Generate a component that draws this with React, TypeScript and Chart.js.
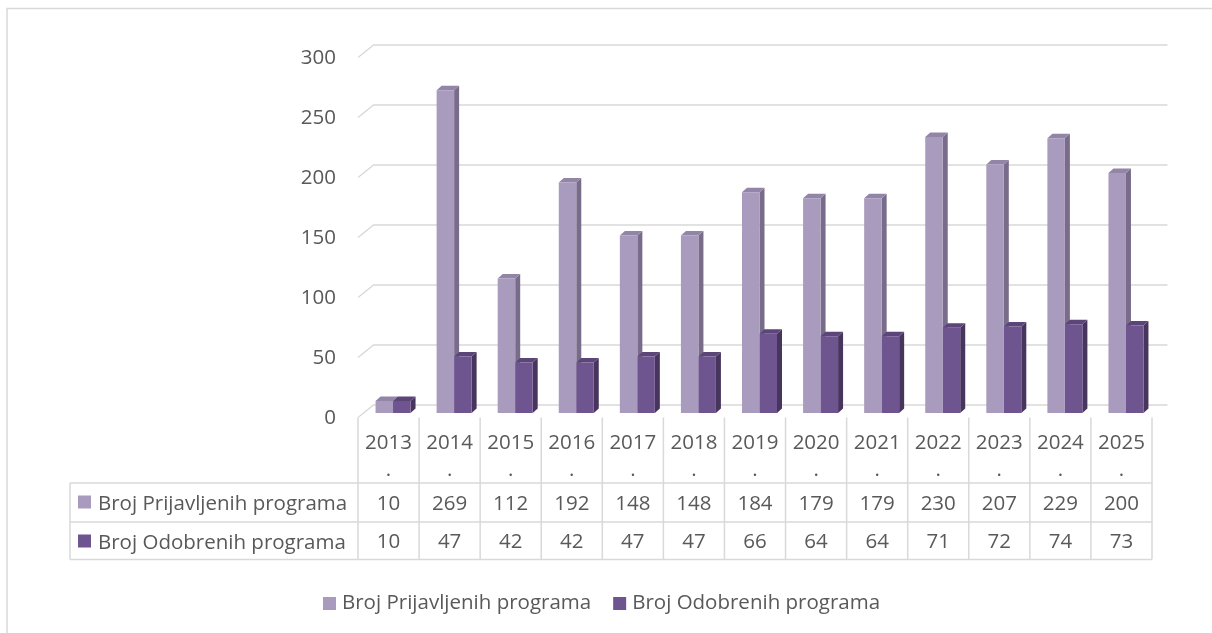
import { useEffect, useRef } from "react";
import { Chart, registerables } from "chart.js";

Chart.register(...registerables);

// ---- data ----
const categories = ["2013.", "2014.", "2015.", "2016.", "2017.", "2018.", "2019.", "2020.", "2021.", "2022.", "2023.", "2024.", "2025."];
const prijavljeni = [10, 269, 112, 192, 148, 148, 184, 179, 179, 230, 207, 229, 200];
const odobreni = [10, 47, 42, 42, 47, 47, 66, 64, 64, 71, 72, 74, 73];
const seriesNames = ["Broj Prijavljenih programa", "Broj Odobrenih programa"];
const yTicks = [0, 50, 100, 150, 200, 250, 300];

// ---- styles ----
const FONT_FAMILY = "'Open Sans', 'DejaVu Sans', sans-serif";
const FONT_SIZE = 20.5;
const TEXT = "#595959";
const GRID = "#D9D9D9";
const FRONT = ["#A99BBD", "#6F5590"];
const TOP = ["#9385A8", "#5C4679"];
const SIDE = ["#786C8A", "#47355E"];

const W = 1212;
const H = 633;

const BAR_SHIFT = 4.5; // bars sit this far behind the front floor edge
const WALL_DX = 15.5;
const WALL_DY = 12.5;
const BOX_DX = 5;
const BOX_DY = 4.5;

const threeDPlugin = {
  id: "threeDTable",
  beforeDatasetsDraw(chart: any) {
    const { ctx, chartArea, scales } = chart;
    const y = scales.y;
    const n = categories.length;
    const cw = (chartArea.right - chartArea.left) / n;
    const frontLeft = chartArea.left - BAR_SHIFT;
    const frontRight = chartArea.right - BAR_SHIFT;
    const font = `${FONT_SIZE}px ${FONT_FAMILY}`;

    ctx.save();
    // outer frame (extends past the window on right/bottom)
    ctx.strokeStyle = GRID;
    ctx.lineWidth = 1.5;
    ctx.strokeRect(7, 8.5, 1400, 900);

    // gridlines on the back wall with the left floor diagonal
    ctx.lineWidth = 1.3;
    ctx.strokeStyle = GRID;
    ctx.font = font;
    ctx.fillStyle = TEXT;
    ctx.textAlign = "right";
    ctx.textBaseline = "middle";
    for (const v of yTicks) {
      const yp = y.getPixelForValue(v);
      const yFront = yp + BAR_SHIFT;
      const yBack = yFront - WALL_DY;
      ctx.beginPath();
      ctx.moveTo(frontLeft, yFront);
      ctx.lineTo(frontLeft + WALL_DX, yBack);
      ctx.lineTo(frontRight + WALL_DX, yBack);
      ctx.stroke();
      ctx.fillText(String(v), 336, yFront + 1);
    }

    // 3D box top and side faces
    const metas = [chart.getDatasetMeta(0), chart.getDatasetMeta(1)];
    for (let j = 0; j < n; j++) {
      for (let d = 0; d < 2; d++) {
        const el: any = metas[d].data[j];
        const l = el.x - el.width / 2;
        const r = el.x + el.width / 2;
        const t = el.y;
        const b = el.base;
        ctx.fillStyle = SIDE[d];
        ctx.beginPath();
        ctx.moveTo(r, t);
        ctx.lineTo(r + BOX_DX, t - BOX_DY);
        ctx.lineTo(r + BOX_DX, b - BOX_DY);
        ctx.lineTo(r, b);
        ctx.closePath();
        ctx.fill();
        ctx.fillStyle = TOP[d];
        ctx.beginPath();
        ctx.moveTo(l, t);
        ctx.lineTo(r, t);
        ctx.lineTo(r + BOX_DX, t - BOX_DY);
        ctx.lineTo(l + BOX_DX, t - BOX_DY);
        ctx.closePath();
        ctx.fill();
      }
    }

    // data table
    const floor = y.getPixelForValue(0) + BAR_SHIFT;
    const row1Top = floor + 65.5;
    const row2Top = row1Top + 39;
    const tableBottom = row2Top + 37.5;
    const labelLeft = 70;
    ctx.strokeStyle = GRID;
    ctx.lineWidth = 1.5;
    ctx.beginPath();
    for (let k = 0; k <= n; k++) {
      const xx = frontLeft + k * cw;
      ctx.moveTo(xx, floor);
      ctx.lineTo(xx, tableBottom);
    }
    ctx.moveTo(labelLeft, row1Top);
    ctx.lineTo(labelLeft, tableBottom);
    for (const yy of [row1Top, row2Top, tableBottom]) {
      ctx.moveTo(labelLeft, yy);
      ctx.lineTo(frontRight, yy);
    }
    ctx.stroke();

    ctx.fillStyle = TEXT;
    ctx.font = font;
    ctx.textAlign = "center";
    ctx.textBaseline = "alphabetic";
    const rows = [prijavljeni, odobreni];
    for (let j = 0; j < n; j++) {
      const cx = frontLeft + (j + 0.5) * cw;
      const cat = categories[j];
      const main = cat.endsWith(".") ? cat.slice(0, -1) : cat;
      ctx.fillText(main, cx, floor + 31);
      if (cat.endsWith(".")) ctx.fillText(".", cx, floor + 58);
      ctx.fillText(String(rows[0][j]), cx, row1Top + 27);
      ctx.fillText(String(rows[1][j]), cx, row2Top + 26);
    }
    ctx.textAlign = "left";
    const rowTops = [row1Top, row2Top];
    for (let d = 0; d < 2; d++) {
      ctx.fillStyle = FRONT[d];
      ctx.fillRect(78, rowTops[d] + 12.5, 13, 13);
      ctx.fillStyle = TEXT;
      ctx.fillText(seriesNames[d], 98, rowTops[d] + 26.5);
    }

    // legend
    const legendY = 597;
    let lx = 323;
    for (let d = 0; d < 2; d++) {
      ctx.fillStyle = FRONT[d];
      ctx.fillRect(lx, legendY, 13, 13);
      ctx.fillStyle = TEXT;
      ctx.fillText(seriesNames[d], lx + 19, legendY + 12);
      lx += 19 + ctx.measureText(seriesNames[d]).width + 22;
    }
    ctx.restore();
  },
};

export default function App() {
  const ref = useRef<HTMLCanvasElement | null>(null);
  useEffect(() => {
    if (!ref.current) return;
    const chart = new Chart(ref.current, {
      type: "bar",
      data: {
        labels: categories,
        datasets: [
          { label: seriesNames[0], data: prijavljeni, backgroundColor: FRONT[0], borderWidth: 0, categoryPercentage: 0.573, barPercentage: 1 },
          { label: seriesNames[1], data: odobreni, backgroundColor: FRONT[1], borderWidth: 0, categoryPercentage: 0.573, barPercentage: 1 },
        ],
      },
      options: {
        responsive: false,
        devicePixelRatio: 1,
        animation: false,
        layout: { padding: { left: 362.5, right: W - 1156.5, top: 53, bottom: H - 413 } },
        scales: {
          x: { display: false, offset: true, grid: { display: false } },
          y: { display: false, min: 0, max: 300, ticks: { stepSize: 50 } },
        },
        plugins: { legend: { display: false }, tooltip: { enabled: false } },
      },
      plugins: [threeDPlugin],
    });
    return () => chart.destroy();
  }, []);
  return (
    <div style={{ position: "absolute", left: 0, top: 0, width: W, height: H, background: "#fff" }}>
      <canvas ref={ref} width={W} height={H} />
    </div>
  );
}
